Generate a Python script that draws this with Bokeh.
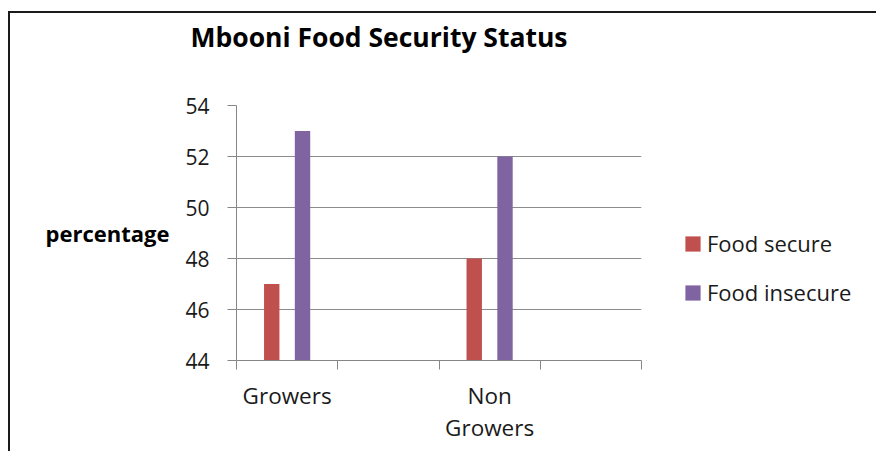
from bokeh.plotting import figure
from bokeh.models import (ColumnDataSource, Range1d, FixedTicker, Legend, LegendItem, Row, Title)
from bokeh.embed import file_html
from bokeh.resources import INLINE

# ---- data ----
categories = ["Growers", "Non Growers"]
category_labels = ["Growers", "Non\nGrowers"]
series_names = ["Food secure", "Food insecure"]
food_secure = [47, 48]
food_insecure = [53, 52]
y_ticks = [44, 46, 48, 50, 52, 54]

RED = "#C0504D"
PURPLE = "#8064A2"
FONT = "Open Sans"

# each category occupies a slot followed by an empty slot (as in the original chart)
slot_centers = [2 * i + 0.5 for i in range(len(categories))]
bar_w = 0.152
src = ColumnDataSource(dict(
    cat=categories,
    x_sec=[c - bar_w for c in slot_centers],
    x_ins=[c + bar_w for c in slot_centers],
    secure=food_secure,
    insecure=food_insecure,
))

p = figure(width=636, height=438, output_backend="svg", toolbar_location=None,
           x_range=Range1d(0, 2 * len(categories)), y_range=Range1d(44, 54),
           min_border_left=226, min_border_right=5, min_border_top=92, min_border_bottom=91)
p.outline_line_color = None
p.background_fill_color = "white"
p.border_fill_color = "white"

r1 = p.vbar(x="x_sec", top="secure", bottom=44, width=bar_w, source=src,
            fill_color=RED, line_color=None)
r2 = p.vbar(x="x_ins", top="insecure", bottom=44, width=bar_w, source=src,
            fill_color=PURPLE, line_color=None)

# blank spacer between title and plot area
p.add_layout(Title(text=" ", text_font_size="1px", standoff=46), "above")

# title
p.title.text = "Mbooni Food Security Status"
p.title.text_font = FONT
p.title.text_font_size = "26.5px"
p.title.text_font_style = "bold"
p.title.text_color = "#000000"
p.title.align = "left"
p.title.offset = -46
p.title.vertical_align = "top"
p.title.standoff = 0

# x axis
xa = p.xaxis[0]
xa.ticker = FixedTicker(ticks=slot_centers,
                        minor_ticks=list(range(0, 2 * len(categories) + 1)))
xa.major_label_overrides = {c: lab for c, lab in zip(slot_centers, category_labels)}
xa.major_tick_out = 0
xa.major_tick_in = 0
xa.minor_tick_out = 9
xa.minor_tick_in = 0
xa.minor_tick_line_color = "#868686"
xa.axis_line_color = "#868686"
xa.major_label_text_font = FONT
xa.major_label_text_font_size = "22.5px"
xa.major_label_text_color = "#1a1a1a"
xa.major_label_text_line_height = 1.05
xa.major_label_standoff = 10

# y axis
ya = p.yaxis[0]
ya.ticker = FixedTicker(ticks=y_ticks)
ya.minor_tick_line_color = None
ya.major_tick_out = 9
ya.major_tick_in = 0
ya.major_tick_line_color = "#868686"
ya.axis_line_color = "#868686"
ya.major_label_text_font = FONT
ya.major_label_text_font_size = "21px"
ya.major_label_text_color = "#1a1a1a"
ya.major_label_standoff = 18
ya.axis_label = "percentage"
ya.axis_label_orientation = "horizontal"
ya.axis_label_text_font = FONT
ya.axis_label_text_font_size = "22px"
ya.axis_label_text_font_style = "bold"
ya.axis_label_text_color = "#000000"
ya.axis_label_standoff = 13

p.xgrid.grid_line_color = None
p.ygrid.grid_line_color = "#8c8c8c"
p.ygrid.ticker = FixedTicker(ticks=y_ticks)

# legend lives in a separate, axis-less panel to the right of the chart;
# its bars use the same data but fall far outside this panel's ranges (not drawn)
pl = figure(width=230, height=438, output_backend="svg", toolbar_location=None,
            x_range=Range1d(1000, 1001), y_range=Range1d(1000, 1001),
            min_border_left=0, min_border_right=0, min_border_top=0, min_border_bottom=0)
pl.axis.visible = False
pl.grid.visible = False
pl.outline_line_color = None
pl.border_fill_color = "white"
pl.background_fill_color = "white"
l1 = pl.vbar(x="x_sec", top="secure", bottom=44, width=bar_w, source=src,
             fill_color=RED, line_color=None)
l2 = pl.vbar(x="x_ins", top="insecure", bottom=44, width=bar_w, source=src,
             fill_color=PURPLE, line_color=None)

legend = Legend(items=[LegendItem(label=series_names[0], renderers=[l1]),
                       LegendItem(label=series_names[1], renderers=[l2])],
                location=(37, 53), orientation="vertical")
legend.glyph_width = 19
legend.glyph_height = 19
legend.label_text_font = FONT
legend.label_text_font_size = "22px"
legend.label_text_color = "#1a1a1a"
legend.label_standoff = 5
legend.spacing = 19
legend.padding = 0
legend.margin = 0
legend.border_line_color = None
legend.background_fill_alpha = 0
pl.add_layout(legend, "center")

layout = Row(children=[p, pl], styles={"margin-left": "8px", "margin-top": "11px",
                                       "border-top": "2px solid #1a1a1a",
                                       "border-left": "2px solid #1a1a1a"})

open("out.html", "w").write(file_html(layout, INLINE))
